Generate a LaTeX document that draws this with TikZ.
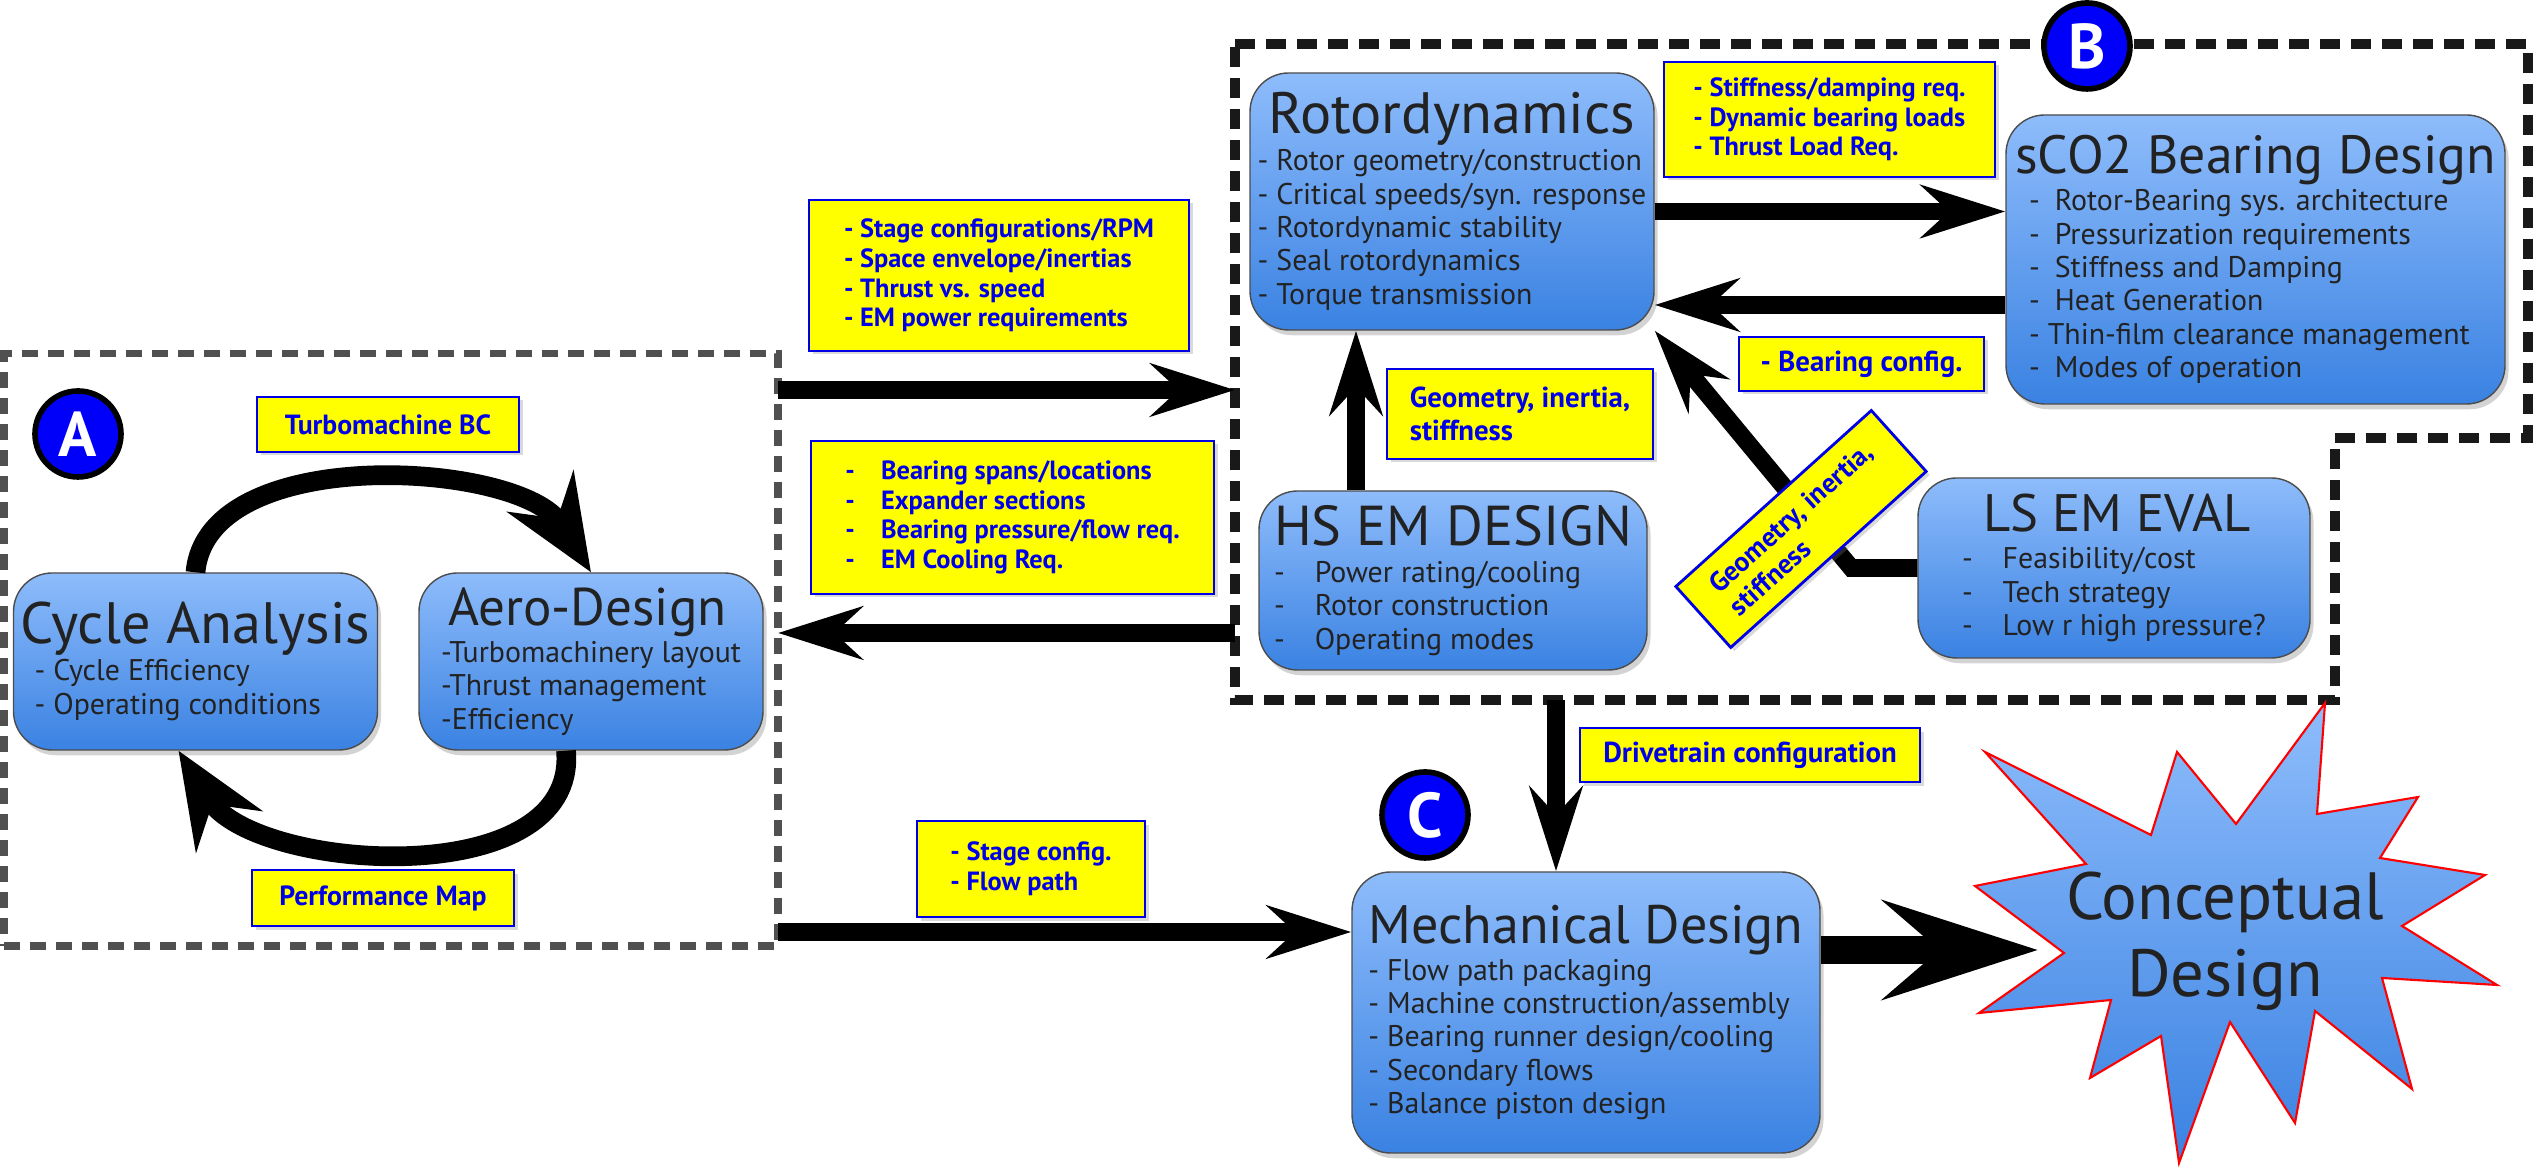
\documentclass[tikz,border=0pt]{standalone}
\usepackage{fontspec}
\setmainfont{PT Sans}
\definecolor{boxtop}{RGB}{142,188,251}
\definecolor{boxbot}{RGB}{58,130,226}
\definecolor{lblblue}{RGB}{0,0,230}
\definecolor{lblyellow}{RGB}{255,255,0}
\definecolor{dashgray}{RGB}{80,80,80}
\definecolor{circblue}{RGB}{0,0,250}
\definecolor{bodytext}{RGB}{34,34,34}
\usetikzlibrary{arrows.meta,positioning,shadows,calc}

\newcommand{\ttl}[2][15.5]{{\fontsize{#1}{#1}\selectfont #2}}

\begin{document}
\begin{tikzpicture}[
  blk/.style={draw=black!70,rounded corners=11pt,top color=boxtop,bottom color=boxbot,
    drop shadow={opacity=0.35,shadow xshift=1pt,shadow yshift=-1.5pt},
    font=\fontsize{8.5}{9.5}\selectfont,align=left,text=bodytext,inner sep=2pt},
  lbl/.style={draw=lblblue,line width=0.8pt,fill=lblyellow,text=lblblue,
    font=\bfseries\fontsize{7.5}{8.4}\selectfont,align=left,inner sep=2pt,
    drop shadow={opacity=0.3,shadow xshift=1pt,shadow yshift=-1pt}},
  circ/.style={circle,draw=black,line width=1.6pt,fill=circblue,text=white,
    minimum size=0.86cm,inner sep=0pt,font=\bfseries\fontsize{18}{18}\selectfont},
  zonea/.style={draw=dashgray,line width=2pt,dash pattern=on 0.16cm off 0.1cm,
    inner sep=0pt,outer sep=0pt},
  zoneb/.style={draw=black!90,line width=2.6pt,dash pattern=on 0.2cm off 0.11cm},
  arr/.style={-{Stealth[length=24pt,width=15pt,inset=8pt]},line width=5pt},
  bigarr/.style={-{Stealth[length=44pt,width=28pt,inset=16pt]},line width=8.2pt},
  looparr/.style={-{Stealth[length=27pt,width=22pt,inset=9pt]},line width=5.6pt}
]
  \useasboundingbox (0,0) rectangle (25.35,11.67);

  % zone A: cycle and aero design
  \node[zonea,minimum width=7.74cm,minimum height=5.92cm] (zoneA) at (3.91,5.17) {};
  \node[circ] (circA) at (0.78,7.33) {A};
  \node[blk,minimum width=3.49cm,minimum height=1.77cm] (cycle) at (1.955,5.055)
    {\ttl[16.6]{Cycle Analysis}\\[1pt]\hspace*{4pt}- Cycle Efficiency\\\hspace*{4pt}- Operating conditions};
  \node[blk,minimum width=3.44cm,minimum height=1.77cm] (aero) at (5.91,5.055)
    {\hspace*{2pt}\ttl[15.1]{Aero-Design}\\[1pt]-Turbomachinery layout\\-Thrust management\\-Efficiency};
  \node[lbl,minimum width=2.62cm,minimum height=0.55cm,align=center,
    font=\bfseries\fontsize{7.9}{9}\selectfont] (bclbl) at (3.88,7.425) {Turbomachine BC};
  \node[lbl,minimum width=2.62cm,minimum height=0.56cm,align=center,
    font=\bfseries\fontsize{7.9}{9}\selectfont] (maplbl) at (3.83,2.69) {Performance Map};
  \draw[looparr] (cycle.north) to[out=85,in=122,looseness=0.85] (aero.north);
  \draw[looparr] ([xshift=-0.25cm]aero.south) to[out=-85,in=-58,looseness=0.95] ([xshift=-0.17cm]cycle.south);

  % zone B: rotordynamics, bearings, machines
  \draw[zoneb] (12.35,11.23) -- (25.28,11.23) -- (25.28,7.29) -- (23.35,7.29)
    -- (23.35,4.67) -- (12.35,4.67) -- cycle;
  \node[circ] (circB) at (20.87,11.21) {B};
  \node[blk,minimum width=4.04cm,minimum height=2.57cm] (rotor) at (14.52,9.655)
    {\hspace*{3pt}\ttl[16.6]{Rotordynamics}\\[1pt]- Rotor geometry/construction\\- Critical speeds/syn. response\\
     - Rotordynamic stability\\- Seal rotordynamics\\- Torque transmission};
  \node[blk,minimum width=4.99cm,minimum height=2.89cm] (sco2) at (22.555,9.075)
    {\ttl[15.3]{sCO2 Bearing Design}\\[1pt]\hspace*{4pt}-\enspace Rotor-Bearing sys. architecture\\
     \hspace*{4pt}-\enspace Pressurization requirements\\\hspace*{4pt}-\enspace Stiffness and Damping\\
     \hspace*{4pt}-\enspace Heat Generation\\\hspace*{4pt}- Thin-film clearance management\\
     \hspace*{4pt}-\enspace Modes of operation};
  \node[blk,minimum width=3.88cm,minimum height=1.79cm] (hsem) at (14.53,5.865)
    {\ttl[16]{HS EM DESIGN}\\[1pt]-\quad Power rating/cooling\\-\quad Rotor construction\\-\quad Operating modes};
  \node[blk,minimum width=3.92cm,minimum height=1.80cm] (lsem) at (21.14,5.99)
    {\hspace*{6pt}\ttl[15]{LS EM EVAL}\\[1pt]-\quad Feasibility/cost\\-\quad Tech strategy\\-\quad Low r high pressure?};

  \node[lbl,minimum width=3.80cm,minimum height=1.51cm] (stagelbl) at (9.99,8.915)
    {- Stage configurations/RPM\\- Space envelope/inertias\\- Thrust vs. speed\\- EM power requirements};
  \node[lbl,minimum width=4.03cm,minimum height=1.53cm] (spanlbl) at (10.125,6.495)
    {-\quad Bearing spans/locations\\-\quad Expander sections\\-\quad Bearing pressure/flow req.\\-\quad EM Cooling Req.};
  \node[lbl,minimum width=3.31cm,minimum height=1.15cm] (stiflbl) at (18.295,10.475)
    {- Stiffness/damping req.\\- Dynamic bearing loads\\- Thrust Load Req.};
  \node[lbl,minimum width=2.45cm,minimum height=0.54cm,
    font=\bfseries\fontsize{8.2}{9}\selectfont] (cfglbl) at (18.615,8.03) {- Bearing config.};
  \node[lbl,minimum width=2.66cm,minimum height=0.90cm,
    font=\bfseries\fontsize{8.2}{9.4}\selectfont] (geolbl) at (15.20,7.53) {Geometry, inertia,\\stiffness};

  % links between the two zones
  \coordinate (bw1) at (12.35,7.77);
  \coordinate (bw2) at (12.35,5.34);
  \draw[arr] (zoneA.east |- bw1) -- (bw1);
  \draw[arr] (bw2) -- (zoneA.east |- bw2);
  \draw[arr] ([yshift=-0.1cm]rotor.east) -- ([yshift=-0.1cm]rotor.east -| sco2.west);
  \draw[arr] ([yshift=-0.455cm]sco2.west) -- ([yshift=-0.455cm]sco2.west -| rotor.east);
  \draw[arr] ([xshift=-0.97cm]hsem.north) -- ([xshift=-0.97cm]hsem.north |- rotor.south);
  \draw[arr] (lsem.west) -- ++(-0.66,0) -- (rotor.south east);
  \node[lbl,rotate=42,minimum width=2.63cm,minimum height=0.82cm,
    font=\bfseries\fontsize{7.8}{8.8}\selectfont] (geolbl2) at (18.01,6.38) {Geometry, inertia,\\stiffness};

  % zone C: mechanical design
  \node[circ] (circC) at (14.25,3.52) {C};
  \node[blk,minimum width=4.68cm,minimum height=2.81cm] (mech) at (15.86,1.545)
    {\ttl[15.4]{Mechanical Design}\\[1pt]- Flow path packaging\\- Machine construction/assembly\\
     - Bearing runner design/cooling\\- Secondary flows\\- Balance piston design};
  \node[lbl,minimum width=3.40cm,minimum height=0.54cm,align=center,
    font=\bfseries\fontsize{8.2}{9}\selectfont] (drvlbl) at (17.50,4.12) {Drivetrain configuration};
  \node[lbl,minimum width=2.28cm,minimum height=0.96cm] (flowlbl) at (10.31,2.98)
    {- Stage config.\\- Flow path};
  \coordinate (mw) at (13.52,2.35);
  \coordinate (dt) at (15.56,4.67);
  \draw[arr] (zoneA.east |- mw) -- (mech.west |- mw);
  \draw[arr] (dt) -- (dt |- mech.north);

  % conceptual design burst
  \shadedraw[top color=boxtop,bottom color=boxbot,draw=red,line width=0.6pt]
    (23.25,4.64) -- (23.17,3.53) -- (24.18,3.70) -- (23.80,3.09) -- (24.85,2.92)
    -- (24.02,2.41) -- (24.97,1.82) -- (23.82,1.89) -- (24.12,0.78) -- (23.15,1.56)
    -- (22.95,0.44) -- (22.30,1.45) -- (21.79,0.04) -- (21.61,1.31) -- (20.90,0.89)
    -- (21.11,1.67) -- (19.79,1.54) -- (20.64,2.14) -- (19.75,2.81) -- (20.86,3.03)
    -- (19.85,4.15) -- (21.51,3.32) -- (21.77,4.15) -- (22.36,3.43) -- cycle;
  \node[align=center,text=bodytext,font=\fontsize{19}{22}\selectfont] (concept) at (22.25,2.26)
    {Conceptual\\Design};
  \coordinate (cd) at (20.38,2.17);
  \draw[bigarr] (mech.east |- cd) -- (cd);
\end{tikzpicture}
\end{document}
